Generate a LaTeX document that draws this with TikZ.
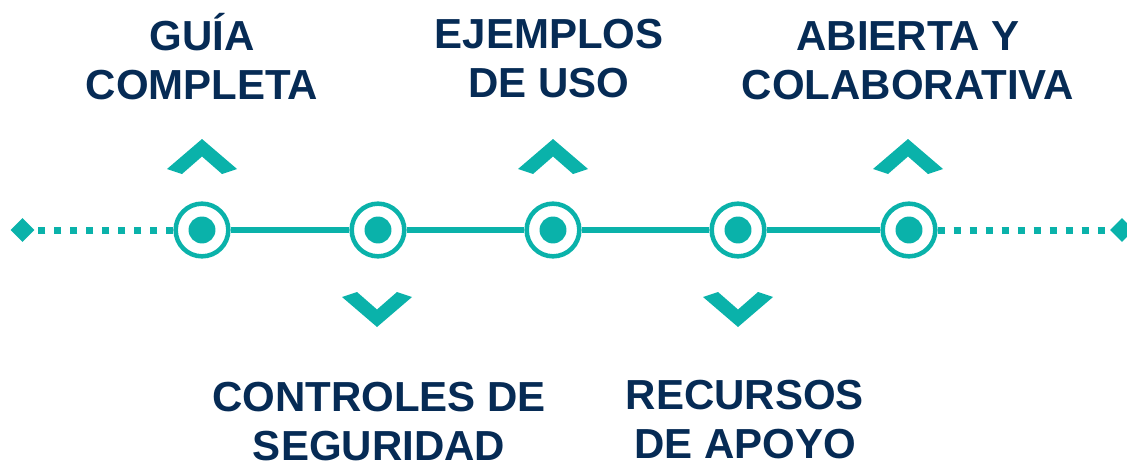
\documentclass[tikz,border=0pt]{standalone}
\usepackage{fontspec}
\setmainfont{Liberation Sans}
\usetikzlibrary{shapes.geometric}

\definecolor{turquesa}{RGB}{10,178,170}
\definecolor{marino}{RGB}{6,43,85}

\tikzset{
	hito/.style={circle, draw=turquesa, line width=3.4pt, fill=white, minimum size=39.5pt, inner sep=0pt},
	rombo/.style={diamond, fill=turquesa, minimum width=18pt, minimum height=18pt, inner sep=0pt},
	etiqueta/.style={text=marino, font=\fontsize{31.5}{36.75}\selectfont\bfseries, align=center, anchor=base, inner sep=0pt},
	linea/.style={draw=turquesa, line width=4.9pt},
	puntos/.style={draw=turquesa, line width=5.25pt, dash pattern=on 5.25pt off 6.75pt},
	flecha/.style={fill=turquesa}
}

\begin{document}
\begin{tikzpicture}[x=0.75pt, y=-0.75pt]
				\useasboundingbox (0,0) rectangle (1127,467);

				\node[hito] (c1) at (202,230) {};
				\node[hito] (c2) at (378,230) {};
				\node[hito] (c3) at (553,230) {};
				\node[hito] (c4) at (738,230) {};
				\node[hito] (c5) at (909,230) {};
				\node[rombo] (izq) at (22.5,230) {};
				\node[rombo] (der) at (1122,230) {};

				\draw[linea] (c1) -- (c2) -- (c3) -- (c4) -- (c5);
				\draw[puntos] (c1) -- (izq);
				\draw[puntos] (c5) -- (der);

				\fill[turquesa] (c1) circle (10.1pt);
				\fill[turquesa] (c2) circle (10.1pt);
				\fill[turquesa] (c3) circle (10.1pt);
				\fill[turquesa] (c4) circle (10.1pt);
				\fill[turquesa] (c5) circle (10.1pt);

				% flechas hacia arriba
				\fill[flecha] (202,139) -- ++(35,30) -- ++(-15,5) -- ++(-20,-17.5) -- ++(-20,17.5) -- ++(-15,-5) -- cycle;
				\fill[flecha] (553,139) -- ++(35,30) -- ++(-15,5) -- ++(-20,-17.5) -- ++(-20,17.5) -- ++(-15,-5) -- cycle;
				\fill[flecha] (908,139) -- ++(35,30) -- ++(-15,5) -- ++(-20,-17.5) -- ++(-20,17.5) -- ++(-15,-5) -- cycle;
				% flechas hacia abajo
				\fill[flecha] (377,327) -- ++(35,-30) -- ++(-15,-5) -- ++(-20,17.5) -- ++(-20,-17.5) -- ++(-15,5) -- cycle;
				\fill[flecha] (738,327) -- ++(35,-30) -- ++(-15,-5) -- ++(-20,17.5) -- ++(-20,-17.5) -- ++(-15,5) -- cycle;

				% base = ultima linea
				\node[etiqueta] (guia) at (202,99.5) {GUÍA\\COMPLETA};
				\node[etiqueta] (ejemplos) at (549,98) {EJEMPLOS\\DE USO};
				\node[etiqueta] (abierta) at (908,99) {ABIERTA Y\\COLABORATIVA};
				\node[etiqueta] (controles) at (379,460) {CONTROLES DE\\SEGURIDAD};
				\node[etiqueta] (recursos) at (745,458) {RECURSOS\\DE APOYO};
			\end{tikzpicture}
\end{document}
